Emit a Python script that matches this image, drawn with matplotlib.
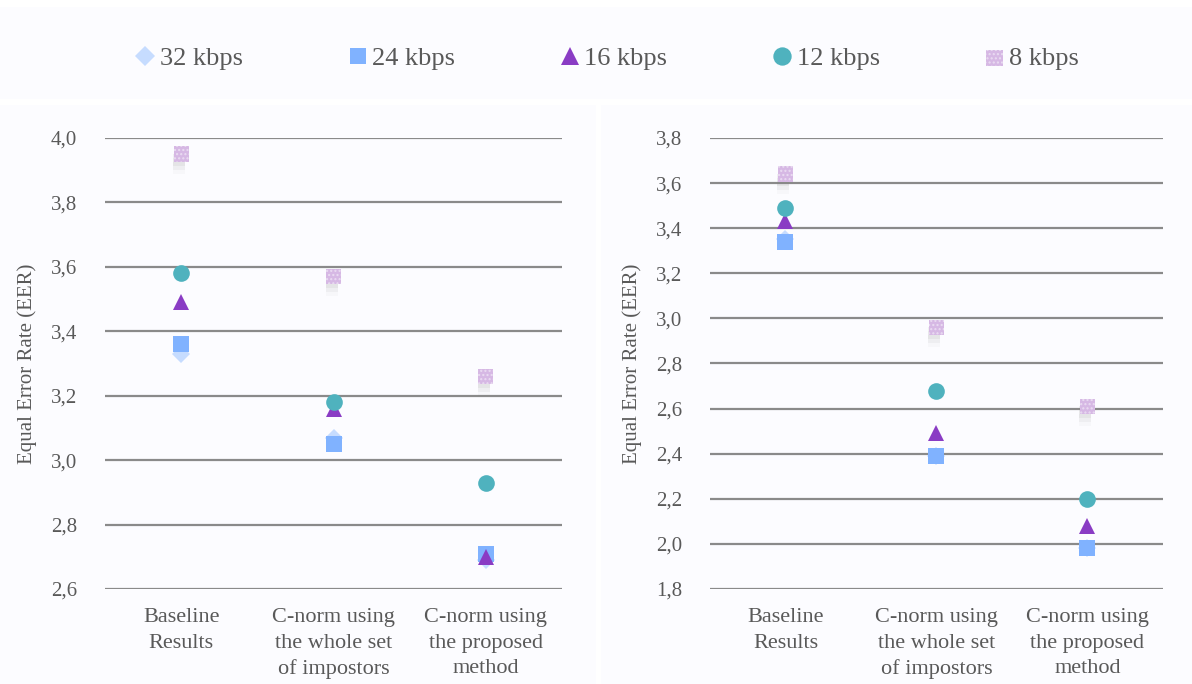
import matplotlib
matplotlib.use("Agg")
import matplotlib.pyplot as plt
import matplotlib.transforms as mtransforms
from matplotlib.patches import Rectangle

# data
categories = ["Baseline\nResults", "C-norm using\nthe whole set\nof impostors", "C-norm using\nthe proposed\nmethod"]
series = ["32 kbps", "24 kbps", "16 kbps", "12 kbps", "8 kbps"]

left_32 = [3.33, 3.07, 2.69]
left_24 = [3.36, 3.05, 2.71]
left_16 = [3.49, 3.16, 2.70]
left_12 = [3.58, 3.18, 2.93]
left_8 = [3.95, 3.57, 3.26]

right_32 = [3.35, 2.39, 1.98]
right_24 = [3.34, 2.39, 1.98]
right_16 = [3.43, 2.49, 2.08]
right_12 = [3.49, 2.68, 2.20]
right_8 = [3.64, 2.96, 2.61]

left_ticks = [2.6, 2.8, 3.0, 3.2, 3.4, 3.6, 3.8, 4.0]
left_ticklabels = ["2,6", "2,8", "3,0", "3,2", "3,4", "3,6", "3,8", "4,0"]
right_ticks = [1.8, 2.0, 2.2, 2.4, 2.6, 2.8, 3.0, 3.2, 3.4, 3.6, 3.8]
right_ticklabels = ["1,8", "2,0", "2,2", "2,4", "2,6", "2,8", "3,0", "3,2", "3,4", "3,6", "3,8"]

plt.rcParams["font.family"] = ["Liberation Serif", "DejaVu Serif"]
plt.rcParams["hatch.linewidth"] = 1.0

styles = {
    "32 kbps": dict(marker="D", color="#C6DCFF", size=9),
    "24 kbps": dict(marker="s", color="#80B2FF", size=11),
    "16 kbps": dict(marker="^", color="#8A3CC4", size=12),
    "12 kbps": dict(marker="o", color="#4FB2BE", size=12),
    "8 kbps": dict(marker="s", color="#D6B8E4", size=11),
}

fig = plt.figure(figsize=(11.92, 6.84), dpi=100, facecolor="white")

# light panel backgrounds
bg = "#FCFCFF"
fig.patches.append(Rectangle((0, 0.855), 1, 0.135, transform=fig.transFigure,
                             facecolor=bg, edgecolor="none", zorder=-5))
fig.patches.append(Rectangle((0, 0), 0.5, 0.846, transform=fig.transFigure,
                             facecolor=bg, edgecolor="none", zorder=-5))
fig.patches.append(Rectangle((0.504, 0), 0.496, 0.846, transform=fig.transFigure,
                             facecolor=bg, edgecolor="none", zorder=-5))

ax1 = fig.add_axes([0.0881, 0.1389, 0.3834, 0.6594])
ax2 = fig.add_axes([0.5956, 0.1389, 0.3800, 0.6594])

panels = [
    (ax1, [left_32, left_24, left_16, left_12, left_8], left_ticks, left_ticklabels),
    (ax2, [right_32, right_24, right_16, right_12, right_8], right_ticks, right_ticklabels),
]

x = list(range(len(categories)))
for ax, vals, ticks, ticklabels in panels:
    ax.set_facecolor("none")
    for name, v in zip(series, vals):
        st = styles[name]
        if name == "8 kbps":
            # soft shadow below-left, then the hatched square
            for dy, a in [(6, 0.10), (10, 0.07), (14, 0.04)]:
                shift = mtransforms.ScaledTranslation(-2 / 100, -dy / 100, fig.dpi_scale_trans)
                ax.plot(x, v, linestyle="none", marker="s", markersize=8,
                        markerfacecolor="#888888", markeredgewidth=0, alpha=a,
                        zorder=2.5, transform=ax.transData + shift)
            ax.scatter(x, v, marker=st["marker"], s=st["size"] ** 2,
                       facecolor=st["color"], edgecolor="#EADCF2", linewidth=0,
                       hatch="....", zorder=3)
        else:
            ax.plot(x, v, linestyle="none", marker=st["marker"], markersize=st["size"],
                    markerfacecolor=st["color"], markeredgecolor=st["color"],
                    markeredgewidth=0, zorder=3)
    ax.set_xlim(-0.5, 2.5)
    ax.set_ylim(ticks[0], ticks[-1])
    ax.set_yticks(ticks)
    ax.set_yticklabels(ticklabels)
    ax.set_xticks(x)
    ax.set_xticklabels(categories, linespacing=1.45)
    ax.yaxis.grid(True, color="#8A8A8A", linewidth=1.6)
    ax.set_axisbelow(True)
    for s in ax.spines.values():
        s.set_visible(False)
    ax.tick_params(axis="y", length=0, pad=20, labelsize=15, labelcolor="#595959")
    ax.tick_params(axis="x", length=0, pad=14, labelsize=16, labelcolor="#595959")
    ax.set_ylabel("Equal Error Rate (EER)", fontsize=15, color="#595959", labelpad=10)

# legend proxies (no shadow)
handles = []
for name in series:
    st = styles[name]
    if name == "8 kbps":
        h = ax1.scatter([], [], marker=st["marker"], s=st["size"] ** 2, facecolor=st["color"],
                        edgecolor="#EADCF2", linewidth=0, hatch="....")
    else:
        h, = ax1.plot([], [], linestyle="none", marker=st["marker"], markersize=st["size"],
                      markerfacecolor=st["color"], markeredgewidth=0)
    handles.append(h)

fig.legend(handles=handles, labels=series, loc="center", bbox_to_anchor=(0.508, 0.915),
           ncol=5, frameon=False, fontsize=19, labelcolor="#595959",
           handletextpad=0.05, columnspacing=3.85, handlelength=1.0, markerscale=1.1)

fig.savefig("out.png", dpi=100, facecolor=fig.get_facecolor())
